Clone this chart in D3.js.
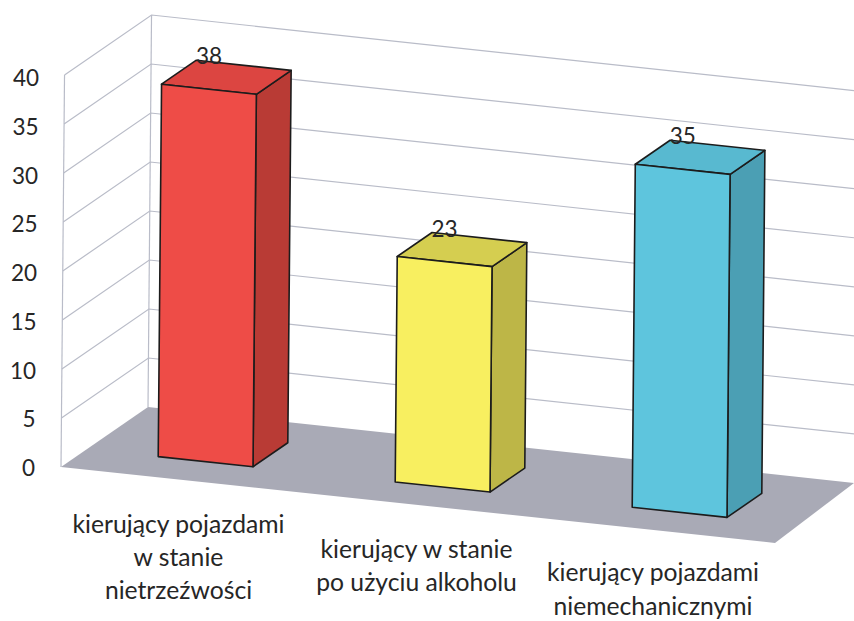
<!DOCTYPE html>
<html><head><meta charset="utf-8">
<script src="https://cdnjs.cloudflare.com/ajax/libs/d3/7.8.5/d3.min.js"></script>
<style>html,body{margin:0;padding:0;background:#fff}svg{display:block}text{font-family:Lato,"Open Sans",sans-serif;fill:#262626}</style>
</head><body><svg id="c" width="854" height="621"></svg>
<script>
const categories = ["kierujący pojazdami w stanie nietrzeźwości","kierujący w stanie po użyciu alkoholu","kierujący pojazdami niemechanicznymi"];
const categoryLines = [["kierujący pojazdami","w stanie","nietrzeźwości"],["kierujący w stanie","po użyciu alkoholu"],["kierujący pojazdami","niemechanicznymi"]];
const values = [38,23,35];
const frontColors = ["#ee4c47","#f8ef60","#5ec5dd"];
const topColors = ["#dc4541","#d5ce50","#58b9d0"];
const sideColors = ["#b93b35","#bdb647","#4b9fb4"];
const yTicks = [0,5,10,15,20,25,30,35,40];

const svg = d3.select("#c");
const across = d3.scaleBand().domain(categories).range([0,1]).paddingInner(0.6).paddingOuter(0.3);
const height = d3.scaleLinear().domain([0,40]).range([0,392]);
const P = (u,d,v)=>[61+714*u+(87-8*u)*d+height(v)*0.009, 467+76*u-60*d-height(v)];
const B = (u,d,v)=>[61+711*u+87*d+height(v)*0.009, 467+76*u-60*d-height(v)];
const line = pts => "M"+pts.map(p=>p.join(",")).join("L")+"Z";
const open = pts => "M"+pts.map(p=>p.join(",")).join("L");

const grid = svg.append("g").attr("fill","none").attr("stroke","#b9bcc8").attr("stroke-width",1.2);
yTicks.forEach(t=>{
  if(t>0){ grid.append("path").attr("d",open([P(0,0,t),P(0,1,t),P(1,1,t)])); }
});
grid.append("path").attr("d",open([P(0,0,0),P(0,0,40)]));
grid.append("path").attr("d",open([P(0,1,0),P(0,1,40)]));

svg.append("path").attr("d",line([P(0,0,0),P(1,0,0),P(1,1,0),P(0,1,0)])).attr("fill","#a9aab6");

const bars = svg.append("g").attr("stroke","#1c1c1c").attr("stroke-width",1.6).attr("stroke-linejoin","round");
categories.forEach((c,i)=>{
  const a=across(c), b=a+across.bandwidth(), d0=0.3, d1=0.7, v=values[i];
  bars.append("path").attr("d",line([B(b,d0,0),B(b,d1,0),B(b,d1,v),B(b,d0,v)])).attr("fill",sideColors[i]);
  bars.append("path").attr("d",line([B(a,d0,v),B(b,d0,v),B(b,d1,v),B(a,d1,v)])).attr("fill",topColors[i]);
  bars.append("path").attr("d",line([B(a,d0,0),B(b,d0,0),B(b,d0,v),B(a,d0,v)])).attr("fill",frontColors[i]);
  const f=B(a+across.bandwidth()/2,d0,v);
  svg.append("text").attr("x",f[0]).attr("y",f[1]-25).attr("text-anchor","middle").attr("font-size",22.5).text(v);
});

yTicks.forEach(t=>{
  svg.append("text").attr("x",35+t*0.1).attr("y",476-height(t)+t*0.05).attr("text-anchor","end").attr("font-size",22.5).text(t);
});

const labelX=[178.5,416.5,653], labelY=[[533,566,599],[558,591],[581,615]];
categoryLines.forEach((ls,i)=>{
  ls.forEach((l,j)=>{
    svg.append("text").attr("x",labelX[i]).attr("y",labelY[i][j]).attr("text-anchor","middle").attr("font-size",24.7).text(l);
  });
});
</script></body></html>
